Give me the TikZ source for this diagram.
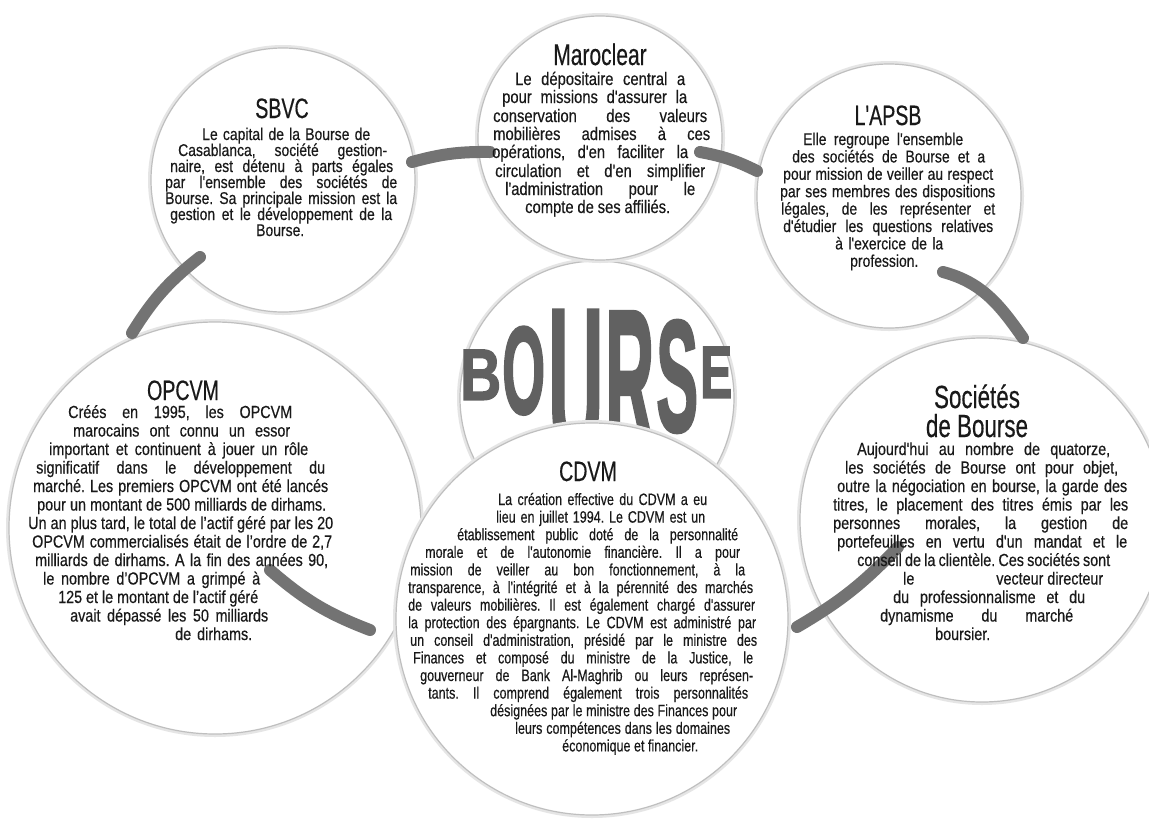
\documentclass[tikz,border=0pt]{standalone}
\usepackage{graphicx}
\usepackage{fontspec}
\setmainfont{Liberation Sans}
\newfontfamily\bodyfont{Liberation Sans}[FakeStretch=0.82,FakeBold=0.4]
\newfontfamily\narrowfont{Liberation Sans}[FakeStretch=0.76,FakeBold=0.4]
\newfontfamily\titlefont{Liberation Sans}[FakeStretch=0.70,FakeBold=0.4]
\newfontfamily\bannerfont{Liberation Sans Bold}[FakeBold=2]
\frenchspacing

% one justified text line: style, name, left x, right x, line centre y, text
\newcommand\tline[6]{\node[#1,anchor=base west] (#2) at (#3,{-(#5)-5}) {\makebox[\dimexpr #4pt-#3pt\relax][s]{#6}};}
% one letter of the banner word: name, left, right, top, bottom, letter
\newcommand\bletter[6]{\node[bannerletter,anchor=south west] (#1) at (#2,-#5) {\resizebox{\dimexpr #3pt-#2pt\relax}{\dimexpr #5pt-#4pt\relax}{#6}};}

\tikzset{
  ring/.style={circle, inner sep=0pt, fill=white, draw=black!25, line width=1.2pt,
               preaction={draw=black!10, line width=6pt}},
  band/.style={draw=black!55, line width=12pt, line cap=round},
  bannerletter/.style={inner sep=0pt, text=black!62, font=\bannerfont},
  ttl/.style={inner sep=0pt, anchor=base, text=black!90, font=\titlefont\fontsize{28}{28}\selectfont},
  txt/.style={inner sep=0pt, text=black!90},
  sb/.style={txt, font=\bodyfont\fontsize{17}{17}\selectfont},
  mc/.style={txt, font=\bodyfont\fontsize{18}{18}\selectfont},
  ap/.style={txt, font=\bodyfont\fontsize{17}{17}\selectfont},
  op/.style={txt, font=\bodyfont\fontsize{17.5}{17.5}\selectfont},
  cd/.style={txt, font=\narrowfont\fontsize{16.5}{16.5}\selectfont},
  so/.style={txt, font=\bodyfont\fontsize{17.5}{17.5}\selectfont},
}

\begin{document}
\begin{tikzpicture}[x=1pt,y=1pt]
\useasboundingbox (0,0) rectangle (1149,-820);
\clip (0,0) rectangle (1149,-820);
\fill[white] (0,0) rectangle (1149,-820);

% central circle with the arched banner word (its foot is hidden by the CDVM circle)
\node[ring, minimum size=274pt] (bourse) at (597,-398) {};
\bletter{bB}{460}{501}{350}{400}{B}
\bletter{bO}{502}{545}{328}{415}{O}
\bletter{bU}{548}{603}{313}{462}{U}
\bletter{bR}{605}{654}{312}{445}{R}
\bletter{bS}{656}{698}{322}{433}{S}
\bletter{bE}{700}{732}{347}{398}{E}

% outer circles
\node[ring, minimum size=264pt] (sbvc)  at (283,-180) {};
\node[ring, minimum size=244pt] (maro)  at (600,-138) {};
\node[ring, minimum size=264pt] (apsb)  at (889,-196) {};
\node[ring, minimum size=412pt] (opcvm) at (215,-528) {};
\node[ring, minimum size=364pt] (soc)   at (982,-520) {};
\node[ring, minimum size=392pt] (cdvm)  at (592,-619) {};

% ends of the linking bands
\coordinate (b1a) at (412,-162); \coordinate (b1b) at (490,-152);
\coordinate (b2a) at (700,-152); \coordinate (b2b) at (757,-171);
\coordinate (b3a) at (943,-272); \coordinate (b3b) at (1023,-338);
\coordinate (b4a) at (898,-547); \coordinate (b4b) at (797,-627);
\coordinate (b5a) at (270,-570); \coordinate (b5b) at (370,-630);
\coordinate (b6a) at (132,-333); \coordinate (b6b) at (200,-257);

\draw[band] (b1a) to[bend left=8] (b1b);
\draw[band] (b2a) to[bend left=8] (b2b);
\draw[band] (b3a) to[out=-15,in=125] (b3b);
\draw[band] (b4a) to[bend left=8] (b4b);
\draw[band] (b5a) to[bend right=10] (b5b);
\draw[band] (b6a) to[bend left=10] (b6b);

% SBVC
\node[ttl] (sbvc-t) at (282,-118) {SBVC};
\tline{sb}{sbvc-1}{202}{370}{135}{Le capital de la Bourse de}
\tline{sb}{sbvc-2}{178}{387}{151}{Casablanca, société gestion-}
\tline{sb}{sbvc-3}{170}{393}{167}{naire, est détenu à parts égales}
\tline{sb}{sbvc-4}{165}{397}{183}{par l'ensemble des sociétés de}
\tline{sb}{sbvc-5}{165}{397}{199}{Bourse. Sa principale mission est la}
\tline{sb}{sbvc-6}{170}{392}{215}{gestion et le développement de la}
\tline{sb}{sbvc-7}{256}{305}{231}{Bourse.}

% Maroclear
\node[ttl, font=\titlefont\fontsize{30}{30}\selectfont] (maro-t) at (600,-65) {Maroclear};
\tline{mc}{maro-1}{515}{685}{80}{Le dépositaire central a}
\tline{mc}{maro-2}{502}{687}{98}{pour missions d'assurer la}
\tline{mc}{maro-3}{493}{707}{117}{conservation des valeurs}
\tline{mc}{maro-4}{493}{710}{135}{mobilières admises à ces}
\tline{mc}{maro-5}{492}{688}{153}{opérations, d'en faciliter la}
\tline{mc}{maro-6}{495}{705}{172}{circulation et d'en simplifier}
\tline{mc}{maro-7}{505}{695}{190}{l'administration pour le}
\tline{mc}{maro-8}{525}{670}{208}{compte de ses affiliés.}

% L'APSB
\node[ttl] (apsb-t) at (888,-125) {L'APSB};
\tline{ap}{apsb-1}{803}{963}{140}{Elle regroupe l'ensemble}
\tline{ap}{apsb-2}{792}{985}{157.4}{des sociétés de Bourse et a}
\tline{ap}{apsb-3}{783}{993}{174.8}{pour mission de veiller au respect}
\tline{ap}{apsb-4}{780}{995}{192.2}{par ses membres des dispositions}
\tline{ap}{apsb-5}{781}{995}{209.6}{légales, de les représenter et}
\tline{ap}{apsb-6}{783}{993}{227}{d'étudier les questions relatives}
\tline{ap}{apsb-7}{835}{943}{244.4}{à l'exercice de la}
\tline{ap}{apsb-8}{850}{923}{261.8}{profession.}

% OPCVM
\node[ttl] (opcvm-t) at (183,-400) {OPCVM};
\tline{op}{opcvm-1}{68}{292}{413}{Créés en 1995, les OPCVM}
\tline{op}{opcvm-2}{73}{290}{431.5}{marocains ont connu un essor}
\tline{op}{opcvm-3}{49}{308}{450}{important et continuent à jouer un rôle}
\tline{op}{opcvm-4}{36}{325}{468.5}{significatif dans le développement du}
\tline{op}{opcvm-5}{33}{328}{487}{marché. Les premiers OPCVM ont été lancés}
\tline{op}{opcvm-6}{37}{326}{505.5}{pour un montant de 500 milliards de dirhams.}
\tline{op}{opcvm-7}{28}{333}{524}{Un an plus tard, le total de l’actif géré par les 20}
\tline{op}{opcvm-8}{32}{332}{542.5}{OPCVM commercialisés était de l’ordre de 2,7}
\tline{op}{opcvm-9}{35}{328}{561}{milliards de dirhams. A la fin des années 90,}
\tline{op}{opcvm-10}{43}{260}{579.5}{le nombre d’OPCVM a grimpé à}
\tline{op}{opcvm-11}{58}{258}{598}{125 et le montant de l’actif géré}
\tline{op}{opcvm-12}{70}{268}{616.5}{avait dépassé les 50 milliards}
\tline{op}{opcvm-13}{175}{252}{635}{de dirhams.}

% CDVM
\node[ttl] (cdvm-t) at (588,-481) {CDVM};
\tline{cd}{cdvm-1}{498}{707}{500}{La création effective du CDVM a eu}
\tline{cd}{cdvm-2}{496}{705}{517.6}{lieu en juillet 1994. Le CDVM est un}
\tline{cd}{cdvm-3}{457}{738}{535.2}{établissement public doté de la personnalité}
\tline{cd}{cdvm-4}{425}{740}{552.8}{morale et de l'autonomie financière. Il a pour}
\tline{cd}{cdvm-5}{410}{745}{570.4}{mission de veiller au bon fonctionnement, à la}
\tline{cd}{cdvm-6}{408}{753}{588}{transparence, à l'intégrité et à la pérennité des marchés}
\tline{cd}{cdvm-7}{408}{755}{605.6}{de valeurs mobilières. Il est également chargé d'assurer}
\tline{cd}{cdvm-8}{408}{756}{623.2}{la protection des épargnants. Le CDVM est administré par}
\tline{cd}{cdvm-9}{410}{757}{640.8}{un conseil d'administration, présidé par le ministre des}
\tline{cd}{cdvm-10}{413}{753}{658.4}{Finances et composé du ministre de la Justice, le}
\tline{cd}{cdvm-11}{420}{753}{676}{gouverneur de Bank Al-Maghrib ou leurs représen-}
\tline{cd}{cdvm-12}{428}{748}{693.6}{tants. Il comprend également trois personnalités}
\tline{cd}{cdvm-13}{490}{737}{711.2}{désignées par le ministre des Finances pour}
\tline{cd}{cdvm-14}{515}{730}{728.8}{leurs compétences dans les domaines}
\tline{cd}{cdvm-15}{562}{698}{746.4}{économique et financier.}

% Sociétés de Bourse
\node[ttl, font=\titlefont\fontsize{32}{32}\selectfont] (soc-t1) at (977,-408) {Sociétés};
\node[ttl, font=\titlefont\fontsize{32}{32}\selectfont] (soc-t2) at (977,-437) {de Bourse};
\tline{so}{soc-1}{857}{1110}{450}{Aujourd'hui au nombre de quatorze,}
\tline{so}{soc-2}{845}{1118}{468.5}{les sociétés de Bourse ont pour objet,}
\tline{so}{soc-3}{837}{1127}{487}{outre la négociation en bourse, la garde des}
\tline{so}{soc-4}{833}{1128}{505.5}{titres, le placement des titres émis par les}
\tline{so}{soc-5}{833}{1128}{524}{personnes morales, la gestion de}
\tline{so}{soc-6}{837}{1127}{542.5}{portefeuilles en vertu d'un mandat et le}
\tline{so}{soc-7}{857}{1110}{561}{conseil de la clientèle. Ces sociétés sont}
\tline{so}{soc-8}{903}{1103}{579.5}{le\hfill vecteur directeur}
\tline{so}{soc-9}{893}{1085}{598}{du professionnalisme et du}
\tline{so}{soc-10}{880}{1073}{616.5}{dynamisme du marché}
\tline{so}{soc-11}{935}{993}{635}{boursier.}
\end{tikzpicture}
\end{document}
